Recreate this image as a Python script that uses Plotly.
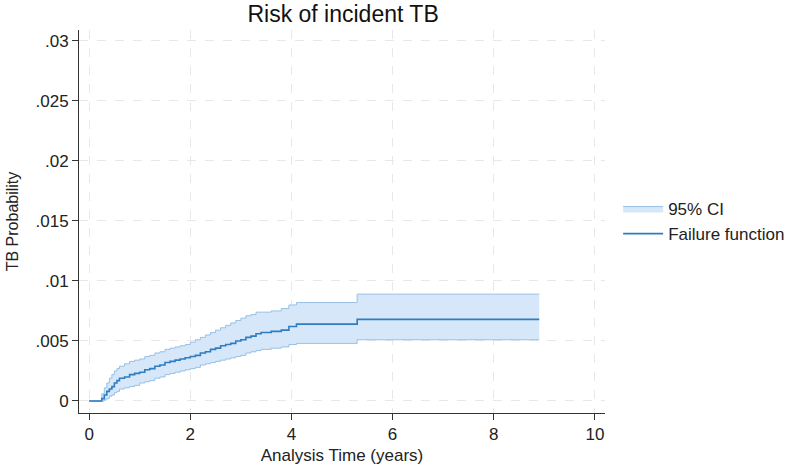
import plotly.graph_objects as go

# Step times (years) and Kaplan-Meier failure estimates with 95% CI
times = [0, 0.25, 0.3, 0.35, 0.4, 0.45, 0.5, 0.55, 0.6,
         0.7, 0.8, 0.9, 1.0,
         1.1, 1.2, 1.3, 1.4, 1.5, 1.6, 1.7, 1.8, 1.9, 2.0,
         2.1, 2.2, 2.3, 2.4, 2.5, 2.6, 2.7, 2.8, 2.9, 3.0,
         3.1, 3.2, 3.3, 3.4,
         3.6, 3.8, 3.95, 4.1,
         5.3, 8.9]
failure = [0, 0.0002, 0.0005, 0.0008, 0.0010, 0.0012, 0.0015, 0.0017, 0.0019,
           0.0020, 0.0022, 0.0023, 0.0024,
           0.0026, 0.0027, 0.0029, 0.0030, 0.0032, 0.0033, 0.0034, 0.0035, 0.0036, 0.0037,
           0.0038, 0.0040, 0.0041, 0.0043, 0.0044, 0.0046, 0.0047, 0.0048, 0.0050, 0.0051,
           0.0053, 0.0054, 0.0056, 0.0057,
           0.0058, 0.0059, 0.0062, 0.0064,
           0.0068, 0.0068]
ci_upper = [0, 0.0006, 0.0011, 0.0015, 0.0019, 0.0022, 0.0025, 0.0027, 0.0029,
            0.0031, 0.0033, 0.0034, 0.0035,
            0.0037, 0.0038, 0.0040, 0.0041, 0.0043, 0.0044, 0.0045, 0.0046, 0.0047, 0.0049,
            0.0051, 0.0053, 0.0055, 0.0057, 0.0059, 0.0061, 0.0063, 0.0065, 0.0067, 0.0069,
            0.0071, 0.0072, 0.0074, 0.0074,
            0.0075, 0.0077, 0.0080, 0.0082,
            0.0089, 0.0089]
ci_lower = [0, 0, 0.0001, 0.0002, 0.0004, 0.0005, 0.0007, 0.0008, 0.0010,
            0.0011, 0.0012, 0.0013, 0.0015,
            0.0016, 0.0017, 0.0019, 0.0020, 0.0022, 0.0023, 0.0024, 0.0025, 0.0026, 0.0027,
            0.0028, 0.0030, 0.0031, 0.0032, 0.0033, 0.0034, 0.0035, 0.0036, 0.0037, 0.0038,
            0.0040, 0.0041, 0.0042, 0.0043,
            0.0044, 0.0045, 0.0047, 0.0048,
            0.0051, 0.0051]

x_ticks = [0, 2, 4, 6, 8, 10]
y_ticks = [0, 0.005, 0.01, 0.015, 0.02, 0.025, 0.03]
y_tick_labels = ["0", ".005", ".01", ".015", ".02", ".025", ".03"]

FONT = "Liberation Sans, Arial, sans-serif"
fill_col = "#d6e7f9"
ci_line = "#96c0e6"
main_col = "#2f7dc0"

fig = go.Figure()
fig.add_trace(go.Scatter(
    x=times, y=ci_lower, mode="lines", line=dict(color=ci_line, width=1, shape="hv"),
    showlegend=False, hoverinfo="skip"))
fig.add_trace(go.Scatter(
    x=times, y=ci_upper, mode="lines", line=dict(color=ci_line, width=1, shape="hv"),
    fill="tonexty", fillcolor=fill_col, name="95% CI"))
fig.add_trace(go.Scatter(
    x=times, y=failure, mode="lines", line=dict(color=main_col, width=1.6, shape="hv"),
    name="Failure function"))

fig.update_layout(
    width=796, height=469,
    margin=dict(l=79, r=191, t=30, b=56, autoexpand=False),
    paper_bgcolor="white", plot_bgcolor="white",
    font=dict(family=FONT, size=16, color="#222"),
    title=dict(text="Risk of incident TB", x=0.431, xanchor="center",
               y=1 - 14 / 469, yanchor="middle", font=dict(size=23, color="#111")),
    legend=dict(x=1.025, y=0.5, xanchor="left", yanchor="middle",
                traceorder="normal",
                font=dict(size=17, color="#222"), bgcolor="rgba(0,0,0,0)",
                tracegroupgap=0, itemwidth=40),
    xaxis=dict(range=[-0.2, 10.2], tickvals=x_ticks, ticks="outside", ticklen=6,
               tickcolor="#333", showline=True, linecolor="#333", linewidth=1,
               showgrid=True, gridcolor="#e8e8e8", griddash="dash", gridwidth=1,
               zeroline=False, tickfont=dict(size=17), automargin=False,
               title=dict(text="Analysis Time (years)", font=dict(size=17), standoff=5)),
    yaxis=dict(range=[-0.001, 0.0309], tickvals=y_ticks, ticktext=y_tick_labels,
               ticks="outside", ticklen=6, tickcolor="#333", showline=True,
               linecolor="#333", linewidth=1, showgrid=True, gridcolor="#e8e8e8",
               griddash="dash", gridwidth=1, zeroline=False, tickfont=dict(size=17),
               automargin=False,
               title=dict(text="TB Probability", font=dict(size=16), standoff=12)),
)

fig.write_html("out.html")
